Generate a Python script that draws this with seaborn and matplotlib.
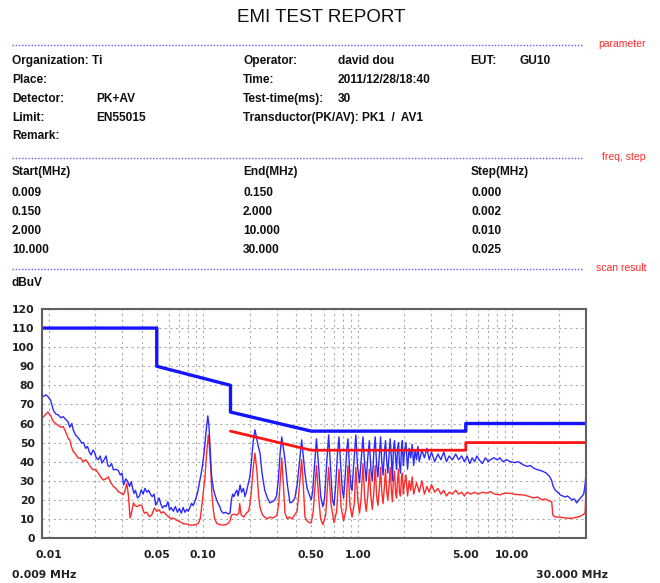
import matplotlib
matplotlib.use("Agg")
import matplotlib.pyplot as plt
from matplotlib.lines import Line2D
from matplotlib.ticker import FixedLocator, LogLocator, NullFormatter
import pandas as pd
import seaborn as sns

sns.set_style("white")
plt.rcParams['font.family'] = ['Liberation Sans', 'DejaVu Sans']

# ---- report header ----
title = "EMI TEST REPORT"
param_rows = [
    ("Organization: Ti", "", "Operator:", "david dou", "EUT:", "GU10"),
    ("Place:", "", "Time:", "2011/12/28/18:40", "", ""),
    ("Detector:", "PK+AV", "Test-time(ms):", "30", "", ""),
    ("Limit:", "EN55015", "Transductor(PK/AV): PK1  /  AV1", "", "", ""),
    ("Remark:", "", "", "", "", ""),
]
freq_header = ["Start(MHz)", "End(MHz)", "Step(MHz)"]
freq_start = ["0.009", "0.150", "2.000", "10.000"]
freq_end = ["0.150", "2.000", "10.000", "30.000"]
freq_step = ["0.000", "0.002", "0.010", "0.025"]
section_names = ["parameter", "freq, step", "scan result"]

# ---- chart data (MHz, dBuV) ----
qp_limit_freq = [0.009, 0.05, 0.05, 0.15, 0.15, 0.5, 5, 5, 30]
qp_limit_level = [110, 110, 90, 80, 66, 56, 56, 60, 60]
av_limit_freq = [0.15, 0.5, 5, 5, 30]
av_limit_level = [56, 46, 46, 50, 50]

pk_freq = [
    0.009, 0.00913, 0.0096, 0.0099, 0.0103, 0.0107, 0.0111, 0.0115, 0.012, 0.0124,
    0.0129, 0.0133, 0.0137, 0.0141, 0.0144, 0.0149, 0.0155, 0.016, 0.0163, 0.0168,
    0.0173, 0.0178, 0.0183, 0.0188, 0.0193, 0.0197, 0.0203, 0.0209, 0.0215, 0.0221,
    0.0228, 0.0235, 0.0241, 0.0247, 0.0255, 0.0262, 0.0272, 0.0282, 0.029, 0.0298,
    0.0305, 0.0315, 0.0325, 0.0333, 0.0342, 0.0349, 0.0356, 0.0364, 0.0375, 0.0386,
    0.0397, 0.0408, 0.0419, 0.0432, 0.0443, 0.0455, 0.0467, 0.048, 0.0492, 0.0505,
    0.0518, 0.053, 0.0545, 0.056, 0.0574, 0.059, 0.0605, 0.062, 0.064, 0.066,
    0.068, 0.07, 0.072, 0.074, 0.076, 0.078, 0.08, 0.082, 0.084, 0.086,
    0.089, 0.092, 0.095, 0.098, 0.101, 0.104, 0.107, 0.109, 0.111, 0.113,
    0.116, 0.119, 0.122, 0.125, 0.128, 0.131, 0.135, 0.14, 0.145, 0.149,
    0.152, 0.155, 0.158, 0.162, 0.165, 0.168, 0.173, 0.177, 0.182, 0.186,
    0.19, 0.195, 0.2, 0.205, 0.21, 0.216, 0.222, 0.227, 0.233, 0.24,
    0.25, 0.26, 0.27, 0.28, 0.29, 0.298, 0.306, 0.314, 0.322, 0.33,
    0.338, 0.35, 0.364, 0.378, 0.392, 0.405, 0.419, 0.4335, 0.445, 0.455,
    0.47, 0.486, 0.5, 0.51, 0.525, 0.54, 0.555, 0.575, 0.594, 0.61,
    0.63, 0.648, 0.665, 0.685, 0.702, 0.72, 0.74, 0.756, 0.775, 0.795,
    0.81, 0.83, 0.85, 0.864, 0.885, 0.905, 0.918, 0.94, 0.972, 0.995,
    1.026, 1.05, 1.08, 1.11, 1.134, 1.16, 1.188, 1.215, 1.242, 1.27,
    1.296, 1.325, 1.35, 1.38, 1.404, 1.43, 1.458, 1.49, 1.512, 1.54,
    1.566, 1.6, 1.62, 1.65, 1.674, 1.7, 1.728, 1.76, 1.782, 1.81,
    1.836, 1.86, 1.89, 1.92, 1.944, 1.97, 2.0, 2.05, 2.1, 2.15,
    2.2, 2.25, 2.3, 2.35, 2.4, 2.45, 2.5, 2.6, 2.7, 2.8,
    2.9, 3.0, 3.15, 3.3, 3.45, 3.6, 3.75, 3.9, 4.1, 4.3,
    4.5, 4.7, 4.9, 5.1, 5.3, 5.5, 5.7, 5.9, 6.1, 6.4,
    6.7, 7.0, 7.2, 7.6, 8.0, 8.3, 8.7, 9.2, 9.7, 10.3,
    10.9, 11.8, 12.5, 13.1, 13.7, 14.3, 15.0, 15.9, 16.6, 17.5,
    18.0, 18.4, 19.0, 19.7, 20.4, 21.2, 22.0, 22.8, 23.6, 24.4,
    25.2, 26.1, 27.0, 28.1, 29.0, 29.6, 30.0,
]
pk_level = [
    72, 74, 75, 74, 72, 67, 65, 64.5, 63, 63.6,
    62, 61, 58, 60, 56.7, 54, 52.5, 51, 49.8, 50,
    47, 48, 45, 43.5, 46, 45.3, 42, 41, 43, 39.3,
    41, 43, 38, 37.4, 39, 35.7, 36, 35.3, 33, 34,
    27.8, 31, 29.5, 27, 29.5, 26, 23.4, 25, 21, 22,
    25.2, 23, 26, 24, 25, 23, 21.7, 23, 17.3, 19,
    21, 18, 15.7, 17, 16.4, 19, 14.7, 16, 14, 16.5,
    13.5, 15.5, 13, 16, 13.5, 15, 14, 16, 18.2, 17,
    20, 24, 30, 36, 44, 55, 64, 58, 45, 33,
    26, 22.6, 20, 18, 16.4, 14, 13, 13.5, 12.6, 13,
    20, 23, 21.7, 24, 25, 22, 27.8, 24, 26, 21.7,
    24, 28, 32, 40, 50, 56.7, 52, 48, 44.5, 34,
    25, 21, 18.4, 19, 20, 22, 30.4, 44, 53, 47,
    41, 28, 18.4, 19, 21, 28, 39.3, 51.4, 42, 34,
    26, 22.6, 20, 24, 38, 52, 40, 22, 16.4, 21,
    40, 54, 38, 20, 17, 28, 45, 53, 38, 25,
    21, 33, 47, 52, 36, 26, 25, 38, 54, 38,
    29, 40, 53, 38, 30, 42, 51, 36, 30, 45,
    53, 38, 32, 44, 53, 40, 33, 46, 51, 40,
    34, 45, 52, 42, 30, 46, 51, 41, 36, 47,
    50, 39, 34, 48, 51, 38, 44, 50, 36, 47,
    42, 49, 38, 46, 41, 48, 40, 46, 42, 47,
    41, 45, 40, 44, 41, 45, 40, 43, 41, 44,
    41, 43, 40, 43, 39, 42, 40, 43, 41, 39,
    42, 40, 41, 42, 41, 42, 40, 41, 40, 39.5,
    40, 38.3, 37.5, 38, 36.7, 36, 35.5, 34.8, 34, 32,
    30, 27, 25, 24, 22.6, 22, 21.5, 22, 21, 20,
    20.5, 18.4, 20, 21.7, 23, 28, 34,
]

av_freq = [
    0.009, 0.00913, 0.0096, 0.0099, 0.0103, 0.0107, 0.0111, 0.0115, 0.012, 0.0124,
    0.0128, 0.0131, 0.0134, 0.0137, 0.014, 0.0144, 0.0149, 0.0155, 0.016, 0.0167,
    0.0173, 0.018, 0.0187, 0.0194, 0.0201, 0.0209, 0.0217, 0.0225, 0.0234, 0.0243,
    0.0252, 0.0262, 0.0272, 0.0282, 0.0293, 0.0304, 0.0312, 0.032, 0.0328, 0.0336,
    0.0345, 0.0353, 0.0362, 0.0372, 0.0386, 0.0399, 0.0415, 0.043, 0.0447, 0.0464,
    0.0482, 0.05, 0.0518, 0.0535, 0.0552, 0.057, 0.0594, 0.062, 0.064, 0.0668,
    0.0707, 0.074, 0.0781, 0.082, 0.0862, 0.0895, 0.0929, 0.0955, 0.0977, 0.1,
    0.1026, 0.105, 0.1078, 0.1095, 0.1117, 0.1135, 0.1161, 0.1185, 0.1222, 0.128,
    0.1348, 0.14, 0.1452, 0.149, 0.152, 0.158, 0.165, 0.17, 0.172, 0.176,
    0.183, 0.19, 0.196, 0.2, 0.205, 0.21, 0.216, 0.222, 0.228, 0.233,
    0.242, 0.25, 0.26, 0.27, 0.28, 0.29, 0.3, 0.308, 0.315, 0.322,
    0.33, 0.338, 0.35, 0.36, 0.375, 0.39, 0.405, 0.42, 0.4335, 0.445,
    0.455, 0.47, 0.486, 0.5, 0.515, 0.54, 0.56, 0.575, 0.594, 0.62,
    0.648, 0.67, 0.702, 0.73, 0.756, 0.78, 0.81, 0.84, 0.864, 0.89,
    0.918, 0.95, 0.972, 1.0, 1.026, 1.05, 1.08, 1.11, 1.134, 1.16,
    1.188, 1.215, 1.242, 1.27, 1.296, 1.325, 1.35, 1.38, 1.404, 1.43,
    1.458, 1.49, 1.512, 1.54, 1.566, 1.6, 1.62, 1.65, 1.674, 1.7,
    1.728, 1.76, 1.782, 1.81, 1.836, 1.86, 1.89, 1.92, 1.944, 1.97,
    2.0, 2.05, 2.1, 2.15, 2.2, 2.25, 2.3, 2.4, 2.5, 2.6,
    2.7, 2.8, 2.9, 3.0, 3.15, 3.3, 3.45, 3.6, 3.75, 3.9,
    4.1, 4.3, 4.5, 4.7, 4.9, 5.1, 5.4, 5.7, 6.0, 6.4,
    6.8, 7.2, 7.7, 8.3, 8.9, 9.7, 10.5, 11.8, 12.6, 13.7,
    14.6, 15.5, 16.3, 17.2, 18.0, 18.3, 19.0, 20.4, 22.0, 23.6,
    25.0, 26.5, 27.7, 29.0, 29.6, 30.0,
]
av_level = [
    62, 63, 65, 66, 64, 61, 60, 59, 58, 58.4,
    56, 54, 52, 51.4, 48, 45.3, 44, 41.8, 42, 40,
    41, 39.3, 37, 35.7, 36, 34, 32, 30.4, 31, 32,
    29, 27, 26, 24.3, 23.5, 22.6, 25, 28.7, 22, 10.5,
    14, 18.4, 17, 16.4, 17.3, 17, 13, 13.5, 11.2, 12,
    15.7, 14, 14.7, 13, 13.8, 12.5, 11.2, 10, 10.5, 9.4,
    8.5, 7.5, 7.3, 6.8, 6.8, 7, 7.7, 10, 16.4, 24,
    32, 44, 54, 48, 37.4, 24, 14.7, 10, 7.7, 7,
    6.8, 7, 7.8, 9, 12, 12.5, 12, 13, 18, 12,
    11, 13, 14, 17, 25, 36, 44.5, 36, 22, 16,
    12, 11, 10, 11, 10.5, 11, 12, 18, 30, 42,
    28, 13, 10, 11, 10, 12, 14, 28, 41, 26,
    11, 9, 8, 8, 14, 38, 20, 10, 7, 12,
    37, 18, 8, 14, 36, 16, 9, 15, 38, 17,
    11, 18, 37, 20, 13, 20, 39, 20, 14, 22,
    36, 22, 15, 24, 38, 22, 17, 26, 37, 24,
    18, 28, 36, 24, 20, 29, 37, 25, 19, 30,
    35, 23, 21, 31, 36, 24, 22, 32, 34, 23,
    28, 33, 22, 30, 25, 32, 23, 29, 24, 30,
    23, 27, 24, 28, 24, 26, 23, 25, 22, 24,
    23, 25, 23, 24, 22, 24, 23, 24, 23, 24,
    23.5, 24.3, 23, 22.6, 23.5, 23.4, 22.8, 22.6, 22, 21,
    21.5, 20, 20.5, 19.5, 19, 12, 11, 10.9, 10.5, 10.3,
    10.5, 11, 11.5, 12.5, 13, 25,
]

x_ticks = [0.01, 0.05, 0.1, 0.5, 1, 5, 10]
x_tick_labels = ["0.01", "0.05", "0.10", "0.50", "1.00", "5.00", "10.00"]
y_ticks = list(range(0, 121, 10))

W, H = 660, 583
fig = plt.figure(figsize=(W / 100, H / 100), dpi=100)


def put(x, y, s, **kw):
    kw.setdefault('fontsize', 8.6)
    kw.setdefault('fontweight', 'bold')
    kw.setdefault('ha', 'left')
    kw.setdefault('color', '#101010')
    fig.text(x / W, 1 - y / H, s, va='center', **kw)


put(321, 17, title, fontsize=13.5, fontweight='normal', ha='center')

# section separators
for ypx, name in zip([45, 158, 269], section_names):
    fig.add_artist(Line2D([12 / W, 583 / W], [1 - ypx / H] * 2, color='#5a5aff',
                          lw=1, linestyle=(0, (1, 1.3))))
    put(646, ypx - 1, name, fontsize=7.5, fontweight='normal', color='#ff2a2a', ha='right')

row_y = [61, 80, 99, 118, 136]
col_x = [12, 96, 243, 338, 470, 519]
for yy, row in zip(row_y, param_rows):
    for xx, s in zip(col_x, row):
        if s:
            put(xx, yy, s)

put(12, 172, freq_header[0])
put(243, 172, freq_header[1])
put(471, 172, freq_header[2])
for yy, a, b, c in zip([193, 212, 231, 250], freq_start, freq_end, freq_step):
    put(12, yy, a)
    put(243, yy, b)
    put(471, yy, c)

put(12, 283, "dBuV")

# ---- chart ----
ax = fig.add_axes([41.7 / W, 1 - 538 / H, 544.3 / W, 229 / H])
ax.set_xscale('log')

pk = pd.DataFrame({'freq': pk_freq, 'level': pk_level})
av = pd.DataFrame({'freq': av_freq, 'level': av_level})
qp_lim = pd.DataFrame({'freq': qp_limit_freq, 'level': qp_limit_level})
av_lim = pd.DataFrame({'freq': av_limit_freq, 'level': av_limit_level})

sns.lineplot(data=av, x='freq', y='level', estimator=None, sort=False,
             color='#ff2a2a', lw=1.0, ax=ax)
sns.lineplot(data=pk, x='freq', y='level', estimator=None, sort=False,
             color='#2a2aff', lw=1.0, ax=ax)
sns.lineplot(data=qp_lim, x='freq', y='level', estimator=None, sort=False,
             color='#1414ff', lw=2.4, ax=ax)
sns.lineplot(data=av_lim, x='freq', y='level', estimator=None, sort=False,
             color='#ff1414', lw=2.0, ax=ax)

ax.set_xlim(0.009, 30)
ax.set_ylim(0, 120)
ax.xaxis.set_major_locator(FixedLocator(x_ticks))
ax.set_xticklabels(x_tick_labels)
ax.xaxis.set_minor_locator(LogLocator(base=10, subs=range(1, 10), numticks=20))
ax.xaxis.set_minor_formatter(NullFormatter())
ax.set_yticks(y_ticks)
ax.set_xlabel('')
ax.set_ylabel('')
ax.grid(True, which='both', color='#ababab', lw=0.8, linestyle=(0, (2, 3)))
ax.set_axisbelow(True)
ax.tick_params(which='both', length=0)
ax.tick_params(axis='x', pad=9)
ax.tick_params(axis='y', pad=5)
for lab in ax.get_xticklabels() + ax.get_yticklabels():
    lab.set_fontfamily('DejaVu Sans')
    lab.set_fontweight('bold')
    lab.set_fontsize(7.8)
    lab.set_color('#202020')
for sp in ax.spines.values():
    sp.set_color('#606060')
    sp.set_linewidth(1.5)

put(12, 575, "0.009 MHz", family='DejaVu Sans', fontsize=7.8, color='#202020')
put(608, 575, "30.000 MHz", family='DejaVu Sans', fontsize=7.8, color='#202020', ha='right')

fig.savefig('out.png', dpi=100)
